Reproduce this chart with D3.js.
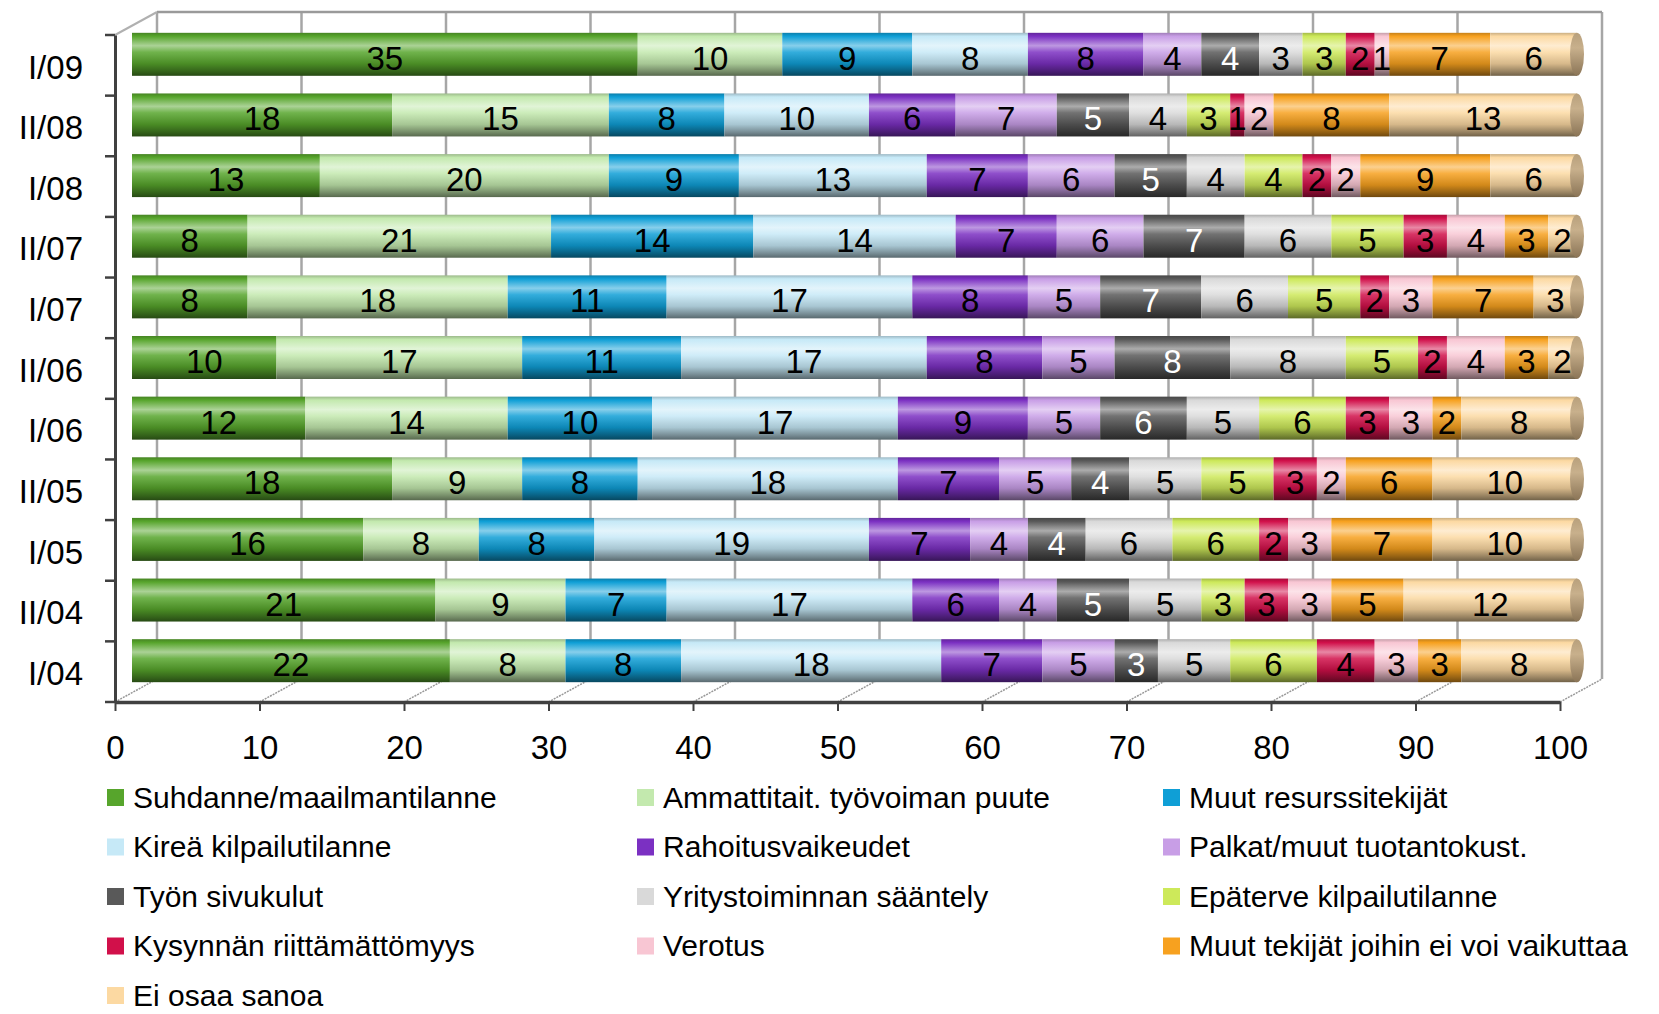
<!DOCTYPE html>
<html>
<head>
<meta charset="utf-8">
<script src="https://cdn.jsdelivr.net/npm/d3@7"></script>
<style>
body { margin: 0; background: #fff; }
svg { display: block; font-family: "Liberation Sans", Arial, sans-serif; }
</style>
</head>
<body>
<svg id="chart" width="1659" height="1014"></svg>
<script>
const categories = ["I/09", "II/08", "I/08", "II/07", "I/07", "II/06", "I/06", "II/05", "I/05", "II/04", "I/04"];

const seriesNames = [
  "Suhdanne/maailmantilanne", "Ammattitait. työvoiman puute", "Muut resurssitekijät",
  "Kireä kilpailutilanne", "Rahoitusvaikeudet", "Palkat/muut tuotantokust.",
  "Työn sivukulut", "Yritystoiminnan sääntely", "Epäterve kilpailutilanne",
  "Kysynnän riittämättömyys", "Verotus", "Muut tekijät joihin ei voi vaikuttaa",
  "Ei osaa sanoa"
];

// one row per category, columns in seriesNames order
const values = [
  [35, 10, 9, 8, 8, 4, 4, 3, 3, 2, 1, 7, 6],
  [18, 15, 8, 10, 6, 7, 5, 4, 3, 1, 2, 8, 13],
  [13, 20, 9, 13, 7, 6, 5, 4, 4, 2, 2, 9, 6],
  [8, 21, 14, 14, 7, 6, 7, 6, 5, 3, 4, 3, 2],
  [8, 18, 11, 17, 8, 5, 7, 6, 5, 2, 3, 7, 3],
  [10, 17, 11, 17, 8, 5, 8, 8, 5, 2, 4, 3, 2],
  [12, 14, 10, 17, 9, 5, 6, 5, 6, 3, 3, 2, 8],
  [18, 9, 8, 18, 7, 5, 4, 5, 5, 3, 2, 6, 10],
  [16, 8, 8, 19, 7, 4, 4, 6, 6, 2, 3, 7, 10],
  [21, 9, 7, 17, 6, 4, 5, 5, 3, 3, 3, 5, 12],
  [22, 8, 8, 18, 7, 5, 3, 5, 6, 4, 3, 3, 8]
];

const xTicks = [0, 10, 20, 30, 40, 50, 60, 70, 80, 90, 100];

const colors = ["#57a52c", "#c3e9ae", "#0f9fd6", "#c6e9f7", "#7b30c2", "#c89ee6", "#595959",
  "#d9d9d9", "#cde95a", "#d1104a", "#f8c6d3", "#f7a11f", "#fcd9a2"];

const svg = d3.select("#chart");
const x = d3.scaleLinear().domain([0, 100]).range([115, 1560]);
const y = d3.scaleBand().domain(categories).range([35, 702]);
const back = { dx: 42, dy: -23 };
const bar = { dx: 17, dy: -11, h: 43 };
const floorY = 702;
const font = "Liberation Sans, Arial, sans-serif";

// gradients for the cylinders
const defs = svg.append("defs");
const mix = (a, b, t) => d3.interpolateRgb(a, b)(t);
colors.forEach((c, i) => {
  const g = defs.append("linearGradient").attr("id", "g" + i)
    .attr("x1", 0).attr("y1", 0).attr("x2", 0).attr("y2", 1);
  [[0, mix(c, "#000", 0.2)], [0.08, c], [0.3, mix(c, "#fff", 0.5)], [0.45, mix(c, "#fff", 0.15)],
   [0.72, mix(c, "#000", 0.15)], [0.9, mix(c, "#000", 0.4)], [1, mix(c, "#000", 0.55)]]
    .forEach(([o, col]) => g.append("stop").attr("offset", o).attr("stop-color", col));
});
const cap = defs.append("linearGradient").attr("id", "cap").attr("x1", 0).attr("y1", 0).attr("x2", 0).attr("y2", 1);
[[0, "#b8a07c"], [0.35, "#c8b08c"], [1, "#8a7456"]].forEach(([o, col]) =>
  cap.append("stop").attr("offset", o).attr("stop-color", col));

// back wall and gridlines
const backTop = y.range()[0] + back.dy;
const backBottom = floorY + back.dy;
svg.append("g").selectAll("line").data(xTicks).join("line")
  .attr("x1", d => x(d) + back.dx).attr("x2", d => x(d) + back.dx)
  .attr("y1", backTop).attr("y2", backBottom)
  .attr("stroke", "#a6a6a6").attr("stroke-width", 2.5);
svg.append("line").attr("x1", x(0) + back.dx).attr("x2", x(100) + back.dx)
  .attr("y1", backTop).attr("y2", backTop).attr("stroke", "#9a9a9a").attr("stroke-width", 2.5);
svg.append("line").attr("x1", x(0)).attr("y1", y.range()[0])
  .attr("x2", x(0) + back.dx).attr("y2", backTop).attr("stroke", "#b0b0b0").attr("stroke-width", 2);

// floor diagonals
svg.append("g").selectAll("line").data(xTicks).join("line")
  .attr("x1", d => x(d)).attr("y1", floorY)
  .attr("x2", d => x(d) + back.dx).attr("y2", backBottom)
  .attr("stroke", "#999").attr("stroke-width", 1.5).attr("stroke-dasharray", "2,1");

// stacked cylinders
const rows = categories.map((c, i) => {
  const o = { cat: c };
  seriesNames.forEach((s, j) => o[s] = values[i][j]);
  return o;
});
const stacked = d3.stack().keys(seriesNames)(rows);
const cy = c => y(c) + y.bandwidth() / 2 + bar.dy;

stacked.forEach((layer, i) => {
  svg.append("g").selectAll("rect").data(layer).join("rect")
    .attr("x", d => x(d[0]) + bar.dx)
    .attr("width", d => x(d[1]) - x(d[0]))
    .attr("y", d => cy(d.data.cat) - bar.h / 2)
    .attr("height", bar.h)
    .attr("fill", `url(#g${i})`);
});

svg.append("g").selectAll("ellipse").data(categories).join("ellipse")
  .attr("cx", x(100) + bar.dx).attr("cy", d => cy(d))
  .attr("rx", 7).attr("ry", bar.h / 2)
  .attr("fill", "url(#cap)");

// value labels
stacked.forEach((layer, i) => {
  svg.append("g").selectAll("text").data(layer).join("text")
    .attr("x", d => x((d[0] + d[1]) / 2) + bar.dx)
    .attr("y", d => cy(d.data.cat) + 4)
    .attr("text-anchor", "middle").attr("dominant-baseline", "central")
    .attr("font-size", 33)
    .attr("fill", i === 6 ? "#fff" : "#000")
    .text(d => d[1] - d[0]);
});

// axes
const yAxis = svg.append("g").attr("transform", `translate(${x(0)},0)`)
  .call(d3.axisLeft(y).tickSize(0).tickPadding(32));
yAxis.select(".domain").attr("stroke", "#404040").attr("stroke-width", 3);
yAxis.selectAll("text").attr("font-size", 33).attr("fill", "#000")
  .attr("font-family", font).attr("dy", "0.4em");
const bounds = categories.map(c => y(c)).concat([y.range()[1]]);
svg.append("g").selectAll("line").data(bounds).join("line")
  .attr("x1", x(0) - 10).attr("x2", x(0)).attr("y1", d => d).attr("y2", d => d)
  .attr("stroke", "#404040").attr("stroke-width", 2.5);

const xAxis = svg.append("g").attr("transform", `translate(0,${floorY})`)
  .call(d3.axisBottom(x).tickValues(xTicks).tickSize(9).tickPadding(25).tickSizeOuter(0));
xAxis.select(".domain").attr("stroke", "#404040").attr("stroke-width", 3.5);
xAxis.selectAll(".tick line").attr("stroke", "#404040").attr("stroke-width", 2);
xAxis.selectAll("text").attr("font-size", 33).attr("fill", "#000")
  .attr("font-family", font);

// legend
const colX = [107, 637, 1163];
const legend = svg.append("g").selectAll("g").data(seriesNames).join("g")
  .attr("transform", (d, i) => `translate(${colX[i % 3]},${797 + Math.floor(i / 3) * 49.5})`);
legend.append("rect").attr("x", 0).attr("y", -8).attr("width", 17).attr("height", 17)
  .attr("fill", (d, i) => colors[i]);
legend.append("text").attr("x", 26).attr("y", 0).attr("dominant-baseline", "central")
  .attr("font-size", 30).text(d => d);
</script>
</body>
</html>
